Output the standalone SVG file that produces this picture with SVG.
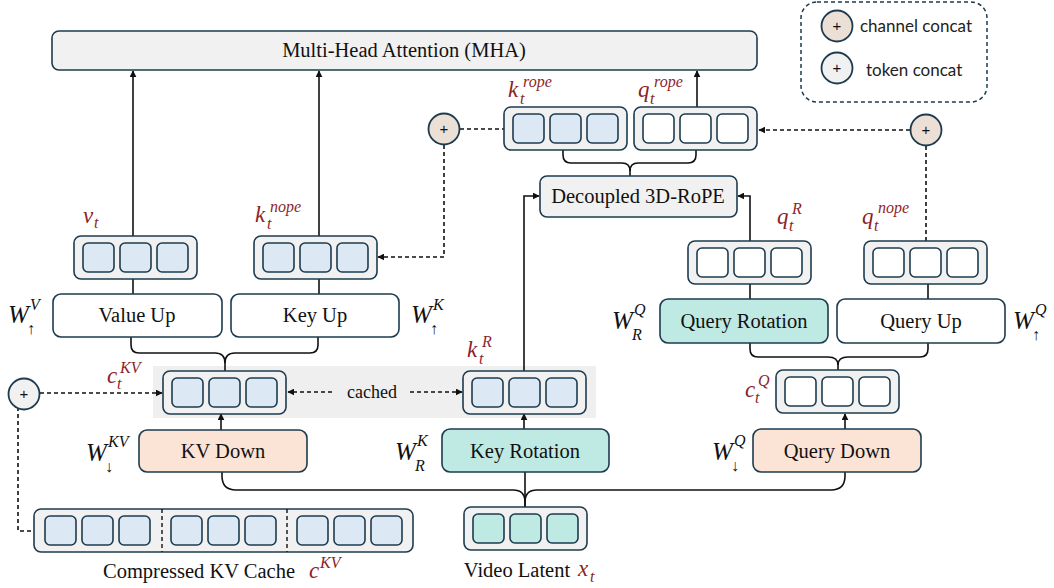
<svg xmlns="http://www.w3.org/2000/svg" xmlns:xlink="http://www.w3.org/1999/xlink" width="1054" height="588" viewBox="0 0 1054 588">
  <defs>
    <style>
      .box { stroke: #1d3b4f; stroke-width: 1.6; }
      .plain { fill: #f1f1f1; }
      .white { fill: #ffffff; }
      .teal { fill: #bfeae4; }
      .peach { fill: #fbe3d5; }
      .lbl { font-family: "Liberation Serif", "Times New Roman", serif; font-size: 20.5px; fill: #111; text-anchor: middle; }
      .legend { font-family: "Lato", "Liberation Sans", sans-serif; font-size: 17px; fill: #222; }
      .m { font-family: "Liberation Serif", "Times New Roman", serif; font-style: italic; fill: #8b1f2b; }
      .w { font-family: "Liberation Serif", "Times New Roman", serif; font-style: italic; fill: #111; }
      .sub { font-size: 16px; }
      .sup { font-size: 16px; }
      .solid { fill: none; stroke: #111; stroke-width: 1.6; }
      .dash { fill: none; stroke: #111; stroke-width: 1.6; stroke-dasharray: 4 3; }
      .circ { stroke: #1d3b4f; stroke-width: 1.8; }
      .plus { font-family: "Liberation Sans", Arial, sans-serif; font-size: 15px; fill: #111; text-anchor: middle; }
    </style>
    <marker id="arrow" viewBox="0 0 10 10" refX="9" refY="5" markerWidth="7" markerHeight="7" markerUnits="userSpaceOnUse" orient="auto">
      <path d="M0,0 L10,5 L0,10 z" fill="#111"/>
    </marker>
    <!-- three-cell vector token, 123 x 43 -->
    <g id="vec-blue">
      <rect class="box plain" x="0" y="0" width="123" height="43" rx="7"/>
      <rect class="box" fill="#dce9f5" x="9" y="7" width="31" height="29" rx="5"/>
      <rect class="box" fill="#dce9f5" x="46" y="7" width="31" height="29" rx="5"/>
      <rect class="box" fill="#dce9f5" x="83" y="7" width="31" height="29" rx="5"/>
    </g>
    <g id="vec-white">
      <rect class="box plain" x="0" y="0" width="123" height="43" rx="7"/>
      <rect class="box white" x="9" y="7" width="31" height="29" rx="5"/>
      <rect class="box white" x="46" y="7" width="31" height="29" rx="5"/>
      <rect class="box white" x="83" y="7" width="31" height="29" rx="5"/>
    </g>
    <g id="vec-teal">
      <rect class="box plain" x="0" y="0" width="123" height="43" rx="7"/>
      <rect class="box teal" x="9" y="7" width="31" height="29" rx="5"/>
      <rect class="box teal" x="46" y="7" width="31" height="29" rx="5"/>
      <rect class="box teal" x="83" y="7" width="31" height="29" rx="5"/>
    </g>
  </defs>

  <rect width="1054" height="588" fill="#ffffff"/>

  <!-- shaded region for cached latents -->
  <rect id="cached-region" x="153" y="366" width="443" height="52" fill="#efefef"/>

  <!-- connectors -->
  <g id="connectors">
    <!-- into attention -->
    <path class="solid" d="M133,236 V71" marker-end="url(#arrow)"/>
    <path class="solid" d="M319,236 V71" marker-end="url(#arrow)"/>
    <path class="solid" d="M697,107 V71" marker-end="url(#arrow)"/>
    <!-- rope outputs merge -->
    <path class="solid" d="M563,150 V155 Q563,163 571,163 H622 Q630,163 630,171 V176"/>
    <path class="solid" d="M696,150 V155 Q696,163 688,163 H638 Q630,163 630,171"/>
    <!-- rotary inputs -->
    <path class="solid" d="M524,371 V196 H539" marker-end="url(#arrow)"/>
    <path class="solid" d="M750,241 V196 H738" marker-end="url(#arrow)"/>
    <!-- up projections -->
    <path class="solid" d="M133,279 V294"/>
    <path class="solid" d="M319,279 V294"/>
    <path class="solid" d="M131,337 V345 Q131,353 139,353 H215 Q225,353 225,363 V371"/>
    <path class="solid" d="M318,337 V345 Q318,353 310,353 H235 Q225,353 225,363"/>
    <path class="solid" d="M750,284 V299"/>
    <path class="solid" d="M928,284 V299"/>
    <path class="solid" d="M750,343 V349 Q750,357 758,357 H828 Q838,357 838,365 V370"/>
    <path class="solid" d="M928,343 V349 Q928,357 920,357 H848 Q838,357 838,365"/>
    <!-- down projections -->
    <path class="solid" d="M221,430 V414" marker-end="url(#arrow)"/>
    <path class="solid" d="M524,429 V414" marker-end="url(#arrow)"/>
    <path class="solid" d="M845,429 V414" marker-end="url(#arrow)"/>
    <!-- video latent fan-out -->
    <path class="solid" d="M222,472 V476 Q222,490 236,490 H513 Q525,490 525,502 V507"/>
    <path class="solid" d="M845,472 V476 Q845,490 831,490 H537 Q525,490 525,502"/>
    <path class="solid" d="M525,472 V507"/>
    <!-- cached links -->
    <path class="dash" d="M332,392 H288" marker-end="url(#arrow)"/>
    <path class="dash" d="M410,392 H462" marker-end="url(#arrow)"/>
    <!-- channel concat, key side -->
    <path class="dash" d="M460,129 H504"/>
    <path class="dash" d="M444,145 V257 H378" marker-end="url(#arrow)"/>
    <!-- channel concat, query side -->
    <path class="dash" d="M910,130 H759" marker-end="url(#arrow)"/>
    <path class="dash" d="M926,146 V241"/>
    <!-- token concat with cache -->
    <path class="dash" d="M40,393 H162" marker-end="url(#arrow)"/>
    <path class="dash" d="M18,407 V531 H34"/>
  </g>

  <!-- attention -->
  <g id="mha">
    <rect class="box plain" x="52" y="31" width="705" height="39" rx="7"/>
    <text class="lbl" x="404" y="57">Multi-Head Attention (MHA)</text>
  </g>

  <g id="rope">
    <rect class="box plain" x="540" y="176" width="197" height="41" rx="7"/>
    <text class="lbl" x="638" y="203">Decoupled 3D-RoPE</text>
  </g>

  <!-- legend -->
  <g id="legend">
    <rect x="801" y="2" width="186" height="100" rx="16" fill="none" stroke="#1d3b4f" stroke-width="1.5" stroke-dasharray="4 3"/>
    <circle class="circ" cx="837" cy="26" r="15.5" fill="#ecdfd5"/>
    <text class="plus" x="837" y="31">+</text>
    <text class="legend" x="860" y="32">channel concat</text>
    <circle class="circ" cx="837" cy="68" r="15.5" fill="#f1f1f1"/>
    <text class="plus" x="837" y="73">+</text>
    <text class="legend" x="866" y="76">token concat</text>
  </g>

  <!-- concat operators -->
  <g id="concat-k">
    <circle class="circ" cx="444" cy="129" r="15.5" fill="#ecdfd5"/>
    <text class="plus" x="444" y="134">+</text>
  </g>
  <g id="concat-q">
    <circle class="circ" cx="926" cy="130" r="15.5" fill="#ecdfd5"/>
    <text class="plus" x="926" y="135">+</text>
  </g>
  <g id="concat-token">
    <circle class="circ" cx="24" cy="394" r="15.5" fill="#f1f1f1"/>
    <text class="plus" x="24" y="399">+</text>
  </g>

  <!-- rope keys / queries -->
  <g id="k-rope">
    <use href="#vec-blue" x="504" y="107"/>
    <text class="m"><tspan x="508" y="97" font-size="23">k</tspan><tspan class="sub" x="520" y="104">t</tspan><tspan class="sup" x="523" y="87">rope</tspan></text>
  </g>
  <g id="q-rope">
    <use href="#vec-white" x="634" y="107"/>
    <text class="m"><tspan x="638" y="97" font-size="23">q</tspan><tspan class="sub" x="650" y="104">t</tspan><tspan class="sup" x="654" y="87">rope</tspan></text>
  </g>

  <!-- values and non-rope keys -->
  <g id="v">
    <use href="#vec-blue" x="74" y="236"/>
    <text class="m"><tspan x="83" y="223" font-size="23">v</tspan><tspan class="sub" x="94" y="228">t</tspan></text>
  </g>
  <g id="k-nope">
    <use href="#vec-blue" x="254" y="236"/>
    <text class="m"><tspan x="255" y="222" font-size="23">k</tspan><tspan class="sub" x="267" y="229">t</tspan><tspan class="sup" x="270" y="212">nope</tspan></text>
  </g>

  <g id="value-up">
    <rect class="box white" x="53" y="294" width="169" height="43" rx="8"/>
    <text class="lbl" x="137" y="322">Value Up</text>
    <text class="w"><tspan x="8" y="323" font-size="25">W</tspan><tspan x="27" y="334" font-size="16" font-style="normal">↑</tspan><tspan x="30" y="310" font-size="16">V</tspan></text>
  </g>
  <g id="key-up">
    <rect class="box white" x="231" y="294" width="168" height="43" rx="8"/>
    <text class="lbl" x="315" y="322">Key Up</text>
    <text class="w"><tspan x="411" y="323" font-size="25">W</tspan><tspan x="430" y="334" font-size="16" font-style="normal">↑</tspan><tspan x="433" y="310" font-size="16">K</tspan></text>
  </g>

  <!-- query branch -->
  <g id="q-r">
    <use href="#vec-white" x="688" y="241"/>
    <text class="m"><tspan x="777" y="224" font-size="23">q</tspan><tspan class="sub" x="789" y="231">t</tspan><tspan class="sup" x="792" y="214">R</tspan></text>
  </g>
  <g id="q-nope">
    <use href="#vec-white" x="864" y="241"/>
    <text class="m"><tspan x="862" y="224" font-size="23">q</tspan><tspan class="sub" x="874" y="231">t</tspan><tspan class="sup" x="878" y="213">nope</tspan></text>
  </g>
  <g id="query-rotation">
    <rect class="box teal" x="660" y="299" width="168" height="44" rx="8"/>
    <text class="lbl" x="744" y="328">Query Rotation</text>
    <text class="w"><tspan x="612" y="329" font-size="25">W</tspan><tspan x="632" y="340" font-size="16">R</tspan><tspan x="634" y="315" font-size="16">Q</tspan></text>
  </g>
  <g id="query-up">
    <rect class="box white" x="837" y="299" width="168" height="44" rx="8"/>
    <text class="lbl" x="921" y="328">Query Up</text>
    <text class="w"><tspan x="1013" y="329" font-size="25">W</tspan><tspan x="1032" y="340" font-size="16" font-style="normal">↑</tspan><tspan x="1035" y="315" font-size="16">Q</tspan></text>
  </g>

  <!-- latent vectors -->
  <g id="c-kv">
    <use href="#vec-blue" x="163" y="371"/>
    <text class="m"><tspan x="107" y="383" font-size="23">c</tspan><tspan class="sub" x="117" y="389">t</tspan><tspan class="sup" x="120" y="373">KV</tspan></text>
  </g>
  <g id="cached-label">
    <text class="lbl" x="372" y="398" style="font-size:18px">cached</text>
  </g>
  <g id="k-r">
    <use href="#vec-blue" x="463" y="371"/>
    <text class="m"><tspan x="467" y="357" font-size="23">k</tspan><tspan class="sub" x="479" y="364">t</tspan><tspan class="sup" x="482" y="347">R</tspan></text>
  </g>
  <g id="c-q">
    <use href="#vec-white" x="776" y="370"/>
    <text class="m"><tspan x="745" y="397" font-size="23">c</tspan><tspan class="sub" x="755" y="403">t</tspan><tspan class="sup" x="758" y="386">Q</tspan></text>
  </g>

  <!-- down projections -->
  <g id="kv-down">
    <rect class="box peach" x="139" y="430" width="168" height="42" rx="8"/>
    <text class="lbl" x="223" y="458">KV Down</text>
    <text class="w"><tspan x="86" y="461" font-size="25">W</tspan><tspan x="105" y="472" font-size="16" font-style="normal">↓</tspan><tspan x="108" y="447" font-size="16">KV</tspan></text>
  </g>
  <g id="key-rotation">
    <rect class="box teal" x="442" y="429" width="167" height="43" rx="8"/>
    <text class="lbl" x="525" y="458">Key Rotation</text>
    <text class="w"><tspan x="395" y="460" font-size="25">W</tspan><tspan x="415" y="471" font-size="16">R</tspan><tspan x="417" y="446" font-size="16">K</tspan></text>
  </g>
  <g id="query-down">
    <rect class="box peach" x="753" y="429" width="168" height="43" rx="8"/>
    <text class="lbl" x="837" y="458">Query Down</text>
    <text class="w"><tspan x="712" y="460" font-size="25">W</tspan><tspan x="731" y="471" font-size="16" font-style="normal">↓</tspan><tspan x="734" y="446" font-size="16">Q</tspan></text>
  </g>

  <!-- compressed cache -->
  <g id="kv-cache">
    <rect class="box plain" x="34" y="509" width="379" height="43" rx="7"/>
    <rect class="box" fill="#dce9f5" x="45" y="516" width="31" height="29" rx="5"/>
    <rect class="box" fill="#dce9f5" x="82" y="516" width="31" height="29" rx="5"/>
    <rect class="box" fill="#dce9f5" x="119" y="516" width="31" height="29" rx="5"/>
    <rect class="box" fill="#dce9f5" x="171" y="516" width="31" height="29" rx="5"/>
    <rect class="box" fill="#dce9f5" x="208" y="516" width="31" height="29" rx="5"/>
    <rect class="box" fill="#dce9f5" x="245" y="516" width="31" height="29" rx="5"/>
    <rect class="box" fill="#dce9f5" x="297" y="516" width="31" height="29" rx="5"/>
    <rect class="box" fill="#dce9f5" x="334" y="516" width="31" height="29" rx="5"/>
    <rect class="box" fill="#dce9f5" x="371" y="516" width="31" height="29" rx="5"/>
    <path d="M162,509 V552 M287,509 V552" stroke="#111" stroke-width="1.4" stroke-dasharray="4 3"/>
    <text class="lbl" x="199" y="578">Compressed KV Cache</text>
    <text class="m"><tspan x="309" y="578" font-size="23">c</tspan><tspan class="sup" x="320" y="568">KV</tspan></text>
  </g>

  <!-- input -->
  <g id="video-latent">
    <use href="#vec-teal" x="464" y="507"/>
    <text class="lbl" x="517" y="577">Video Latent</text>
    <text class="m"><tspan x="578" y="576" font-size="23">x</tspan><tspan class="sub" x="590" y="582">t</tspan></text>
  </g>
</svg>
